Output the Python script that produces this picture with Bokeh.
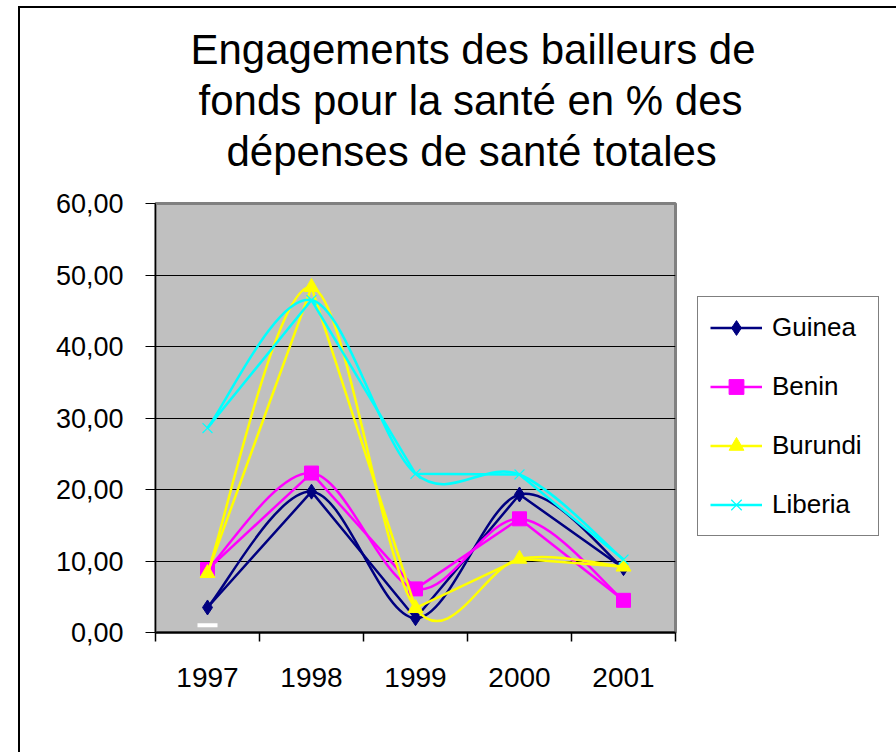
from bokeh.plotting import figure
from bokeh.models import (Range1d, LinearAxis, FixedTicker, Legend, LegendItem,
                          Title, Grid, InlineStyleSheet)
from bokeh.embed import file_html
from bokeh.resources import INLINE

# ---------------- data ----------------
years = ["1997", "1998", "1999", "2000", "2001"]
guinea = [3.5, 19.7, 2.0, 19.3, 9.0]
benin = [8.8, 22.3, 6.1, 15.9, 4.5]
burundi = [8.3, 48.3, 3.4, 10.3, 9.2]
liberia = [28.6, 46.5, 22.2, 22.1, 10.2]
white_mark = [1.0]
y_ticks = [0, 10, 20, 30, 40, 50, 60]
y_tick_labels = ["0,00", "10,00", "20,00", "30,00", "40,00", "50,00", "60,00"]
title_lines = ["Engagements des bailleurs de",
               "fonds pour la santé en % des",
               "dépenses de santé totales"]
title_offsets = [35, 43, 71]

FONT = "Liberation Sans"

xs = list(range(1, len(years) + 1))
bounds = [i + 0.5 for i in range(len(years) + 1)]

p = figure(x_range=Range1d(0.5, len(years) + 0.5), y_range=Range1d(0, 60),
           frame_width=520, frame_height=429,
           min_border_left=155, min_border_right=221,
           min_border_top=203, min_border_bottom=120,
           x_axis_type=None, y_axis_type=None,
           output_backend="svg", toolbar_location=None,
           background_fill_color="#C0C0C0", border_fill_color="white",
           outline_line_color="#808080", outline_line_width=3)

# outer chart border: left and top edges
p.stylesheets = [InlineStyleSheet(css=(
    ":host::before { content: ''; position: absolute; left: 18px; top: 6px; "
    "right: 0; bottom: 0; border-left: 2px solid black; border-top: 2px solid black; "
    "pointer-events: none; z-index: 5; }"))]

# grid
p.add_layout(Grid(dimension=1, ticker=FixedTicker(ticks=y_ticks),
                  grid_line_color="black", grid_line_width=1))

# y axis
yaxis = LinearAxis(ticker=FixedTicker(ticks=y_ticks),
                   major_label_overrides={t: l for t, l in zip(y_ticks, y_tick_labels)},
                   major_tick_out=10, major_tick_in=0, minor_tick_line_color=None,
                   axis_line_color="black", axis_line_width=1,
                   major_tick_line_color="black", major_tick_line_width=1,
                   major_label_standoff=22,
                   major_label_text_font=FONT, major_label_text_font_size="27px",
                   major_label_text_color="black")
p.add_layout(yaxis, "left")

# x axis: tick marks at category boundaries
xaxis1 = LinearAxis(ticker=FixedTicker(ticks=bounds),
                    major_label_overrides={b: "" for b in bounds},
                    major_tick_out=9, major_tick_in=0, minor_tick_line_color=None,
                    axis_line_color="black", axis_line_width=2,
                    major_tick_line_color="black", major_tick_line_width=1.5,
                    major_label_standoff=0, major_label_text_font_size="1px")
p.add_layout(xaxis1, "below")
# x axis: year labels at category centres
xaxis2 = LinearAxis(ticker=FixedTicker(ticks=xs),
                    major_label_overrides={x: y for x, y in zip(xs, years)},
                    axis_line_color=None, major_tick_line_color=None,
                    minor_tick_line_color=None, major_label_standoff=20,
                    major_label_text_font=FONT, major_label_text_font_size="28px",
                    major_label_text_color="black")
p.add_layout(xaxis2, "below")


def smooth(vals, t=1.0 / 6.0):
    n = len(vals)
    d = dict(x0=[], y0=[], x1=[], y1=[], cx0=[], cy0=[], cx1=[], cy1=[])
    for i in range(n - 1):
        a = max(i - 1, 0)
        b = min(i + 2, n - 1)
        d["x0"].append(xs[i]); d["y0"].append(vals[i])
        d["x1"].append(xs[i + 1]); d["y1"].append(vals[i + 1])
        d["cx0"].append(xs[i] + (xs[i + 1] - xs[a]) * t)
        d["cy0"].append(vals[i] + (vals[i + 1] - vals[a]) * t)
        d["cx1"].append(xs[i + 1] - (xs[b] - xs[i]) * t)
        d["cy1"].append(vals[i + 1] - (vals[b] - vals[i]) * t)
    return d


p.scatter([1], white_mark, marker="dash", size=20, line_color="white", line_width=4)

series = [
    ("Guinea", guinea, "#000080", "diamond", 15, 1),
    ("Benin", benin, "#FF00FF", "square", 14, 1),
    ("Burundi", burundi, "#FFFF00", "triangle", 15, 1),
    ("Liberia", liberia, "#00FFFF", "x", 14, 1.2),
]
items = []
for name, vals, col, mk, sz, mlw in series:
    lr = p.line(xs, vals, line_color=col, line_width=2.5)
    p.bezier(line_color=col, line_width=2.5, **smooth(vals))
    if mk == "x":
        mr = p.scatter(xs, vals, marker=mk, size=sz, line_color=col, line_width=mlw)
    else:
        mr = p.scatter(xs, vals, marker=mk, size=sz, fill_color=col, line_color=col)
    items.append(LegendItem(label=name, renderers=[lr, mr]))

legend = Legend(items=items, location=(22, 96),
                border_line_color="black", border_line_width=1.5,
                background_fill_color="white", background_fill_alpha=1,
                label_text_font=FONT, label_text_font_size="26px",
                label_text_color="black",
                glyph_width=52, glyph_height=37, label_height=30, label_width=94,
                spacing=22, padding=12, label_standoff=10, margin=0)
p.add_layout(legend, "right")

# spacer between frame and title block
p.add_layout(Title(text=" ", text_font_size="1px", standoff=25), "above")
# title: three lines, nearest-to-frame first
for k in (2, 1, 0):
    p.add_layout(Title(text=title_lines[k], align="left", offset=title_offsets[k],
                       text_font=FONT, text_font_size="42px", text_color="black",
                       text_font_style="normal", standoff=2),
                 "above")

open("out.html", "w").write(file_html(p, INLINE))
